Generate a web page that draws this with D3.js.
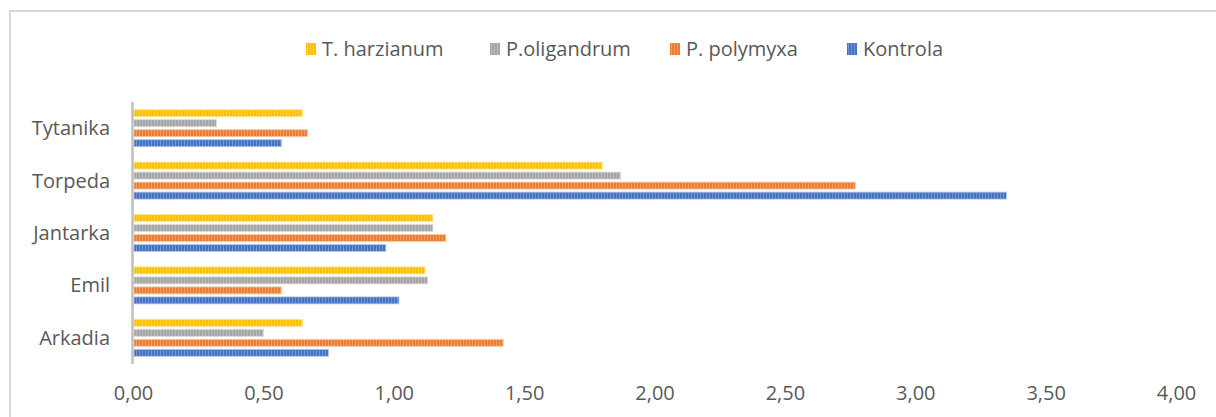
<!DOCTYPE html>
<html>
<head>
<meta charset="utf-8">
<script src="https://cdn.jsdelivr.net/npm/d3@7"></script>
<style>
  html, body { margin: 0; padding: 0; background: #fff; }
  svg { display: block; }
  text { font-family: "Open Sans", "Noto Sans", sans-serif; fill: #595959; }
</style>
</head>
<body>
<svg id="chart" width="1216" height="417"></svg>
<script>
// Varieties (top to bottom) and treatments
const categories = ["Tytanika", "Torpeda", "Jantarka", "Emil", "Arkadia"];
const seriesNames = ["T. harzianum", "P.oligandrum", "P. polymyxa", "Kontrola"];
const seriesColors = ["#FFC000", "#A5A5A5", "#ED7D31", "#4472C4"];

// Values per treatment, in the order of `categories`
const harzianum  = [0.65, 1.80, 1.15, 1.12, 0.65];
const oligandrum = [0.32, 1.87, 1.15, 1.13, 0.50];
const polymyxa   = [0.67, 2.77, 1.20, 0.57, 1.42];
const kontrola   = [0.57, 3.35, 0.97, 1.02, 0.75];
const seriesValues = [harzianum, oligandrum, polymyxa, kontrola];

const xTicks = [0, 0.5, 1, 1.5, 2, 2.5, 3, 3.5, 4];

const svg = d3.select("#chart");

// Outer chart frame (open at right and bottom)
svg.append("rect")
  .attr("x", 10).attr("y", 11)
  .attr("width", 1240).attr("height", 440)
  .attr("fill", "none")
  .attr("stroke", "#d9d9d9")
  .attr("stroke-width", 2);

const plot = { left: 133, right: 1176, top: 102, bottom: 364 };

const x = d3.scaleLinear().domain([0, 4]).range([plot.left, plot.right]);
const y0 = d3.scaleBand().domain(categories).range([plot.top, plot.bottom])
  .paddingInner(0).paddingOuter(0);
const y1 = d3.scaleBand().domain(d3.range(seriesNames.length)).range([0, y0.bandwidth()])
  .paddingInner(0.3).paddingOuter(0.77);

// Striped fills
const defs = svg.append("defs");
seriesColors.forEach((c, i) => {
  const p = defs.append("pattern")
    .attr("id", "stripe" + i)
    .attr("patternUnits", "userSpaceOnUse")
    .attr("x", plot.left + 1)
    .attr("width", 3).attr("height", 10);
  p.append("rect").attr("width", 3).attr("height", 10).attr("fill", c);
  p.append("rect").attr("x", 2).attr("width", 1).attr("height", 10)
    .attr("fill", d3.interpolateRgb(c, "#ffffff")(0.25));
});

const rows = [];
categories.forEach((cat, ci) => {
  seriesValues.forEach((vals, si) => rows.push({ cat, si, v: vals[ci] }));
});

svg.append("g").selectAll("rect")
  .data(rows)
  .join("rect")
  .attr("x", x(0) + 1)
  .attr("y", d => y0(d.cat) + y1(d.si))
  .attr("width", d => x(d.v) - x(0) - 1)
  .attr("height", y1.bandwidth())
  .attr("fill", d => `url(#stripe${d.si})`)
  .attr("stroke", d => d3.interpolateRgb(seriesColors[d.si], "#ffffff")(0.6))
  .attr("stroke-width", 0.8);

// Category axis line
svg.append("line")
  .attr("x1", plot.left - 0.5).attr("x2", plot.left - 0.5)
  .attr("y1", plot.top).attr("y2", plot.bottom)
  .attr("stroke", "#bfbfbf").attr("stroke-width", 2.5);

// Category labels
svg.append("g").selectAll("text")
  .data(categories)
  .join("text")
  .attr("x", 110)
  .attr("y", d => y0(d) + y0.bandwidth() / 2)
  .attr("dy", "0.35em")
  .attr("text-anchor", "end")
  .attr("font-size", 20)
  .text(d => d);

// Value axis labels
const locale = d3.formatLocale({ decimal: ",", thousands: " ", grouping: [3], currency: ["", ""] });
const fmt = locale.format(".2f");
const xAxis = d3.axisBottom(x).tickValues(xTicks).tickFormat(fmt).tickSize(0).tickPadding(0);
const gx = svg.append("g").attr("transform", "translate(0,386)").call(xAxis);
gx.select(".domain").remove();
gx.selectAll("text")
  .attr("font-size", 20)
  .attr("dy", "0.71em")
  .attr("y", 0)
  .style("font-family", "\"Open Sans\", \"Noto Sans\", sans-serif")
  .attr("fill", "#595959");

// Legend
const legendX = [306, 490, 670, 847];
const legend = svg.append("g");
seriesNames.forEach((name, i) => {
  const g = legend.append("g").attr("transform", `translate(${legendX[i]},49)`);
  g.append("rect").attr("x", 0).attr("y", -6).attr("width", 10).attr("height", 12)
    .attr("fill", `url(#stripe${i})`);
  g.append("text").attr("x", 16).attr("y", 0).attr("dy", "0.35em")
    .attr("font-size", 20).text(name);
});
</script>
</body>
</html>
